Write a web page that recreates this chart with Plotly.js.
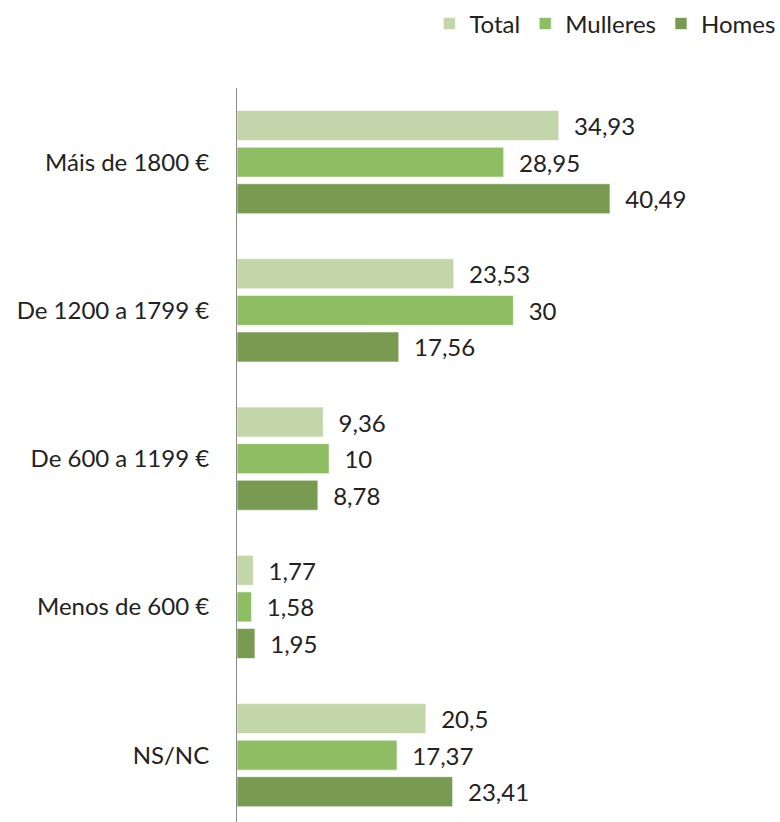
<!DOCTYPE html>
<html lang="gl">
<head>
    <meta charset="UTF-8">
    <title>Ingresos por sexo</title>
    <script src="https://cdn.plot.ly/plotly-3.0.1.min.js" charset="utf-8"></script>
    <style>
        body { margin: 0; overflow: hidden; background: #fff; }
        #chart { width: 780px; height: 822px; }
    </style>
</head>
<body>
<div id="chart"></div>
<script>
// categories, top to bottom
const categories = ['Máis de 1800 €', 'De 1200 a 1799 €', 'De 600 a 1199 €', 'Menos de 600 €', 'NS/NC'];

// series values (%)
const total    = [34.93, 23.53, 9.36, 1.77, 20.5];
const mulleres = [28.95, 30, 10, 1.58, 17.37];
const homes    = [40.49, 17.56, 8.78, 1.95, 23.41];

const seriesNames = ['Total', 'Mulleres', 'Homes'];
const seriesColors = ['#c3d6a9', '#8fbd63', '#789a51'];

// labels with comma decimals, padded away from the bar end
function label(v) {
    return '\u00a0\u00a0' + String(v).replace('.', ',');
}

const data = [total, mulleres, homes].map((vals, i) => ({
    type: 'bar',
    orientation: 'h',
    name: seriesNames[i],
    x: vals,
    y: categories,
    text: vals.map(label),
    textposition: 'outside',
    cliponaxis: false,
    textfont: { family: 'Lato, sans-serif', size: 24, color: '#222' },
    marker: { color: seriesColors[i], line: { color: 'rgba(255,255,255,0.6)', width: 1 } },
    hoverinfo: 'x+name'
}));

const layout = {
    width: 780,
    height: 822,
    margin: { l: 237, r: 5, t: 88, b: 0, autoexpand: false },
    paper_bgcolor: '#fff',
    plot_bgcolor: '#fff',
    font: { family: 'Lato, sans-serif', size: 24, color: '#222' },
    barmode: 'group',
    bargap: 0.26,
    bargroupgap: 0.18,
    showlegend: true,
    legend: {
        orientation: 'h',
        x: 1.01, xanchor: 'right',
        y: 1.118, yanchor: 'top',
        font: { size: 24, color: '#222' },
        itemwidth: 30,
        traceorder: 'normal'
    },
    xaxis: {
        range: [0, 58.4],
        showgrid: false,
        zeroline: false,
        showline: false,
        showticklabels: false,
        ticks: ''
    },
    yaxis: {
        type: 'category',
        categoryorder: 'array',
        categoryarray: categories,
        range: [4.451, -0.5],
        showgrid: false,
        zeroline: false,
        showline: true,
        linecolor: '#8a8a8a',
        linewidth: 1,
        ticks: '',
        ticklabelstandoff: 22,
        tickfont: { size: 24, color: '#222' }
    }
};

Plotly.newPlot('chart', data, layout, { displayModeBar: false, staticPlot: true });
</script>
</body>
</html>
